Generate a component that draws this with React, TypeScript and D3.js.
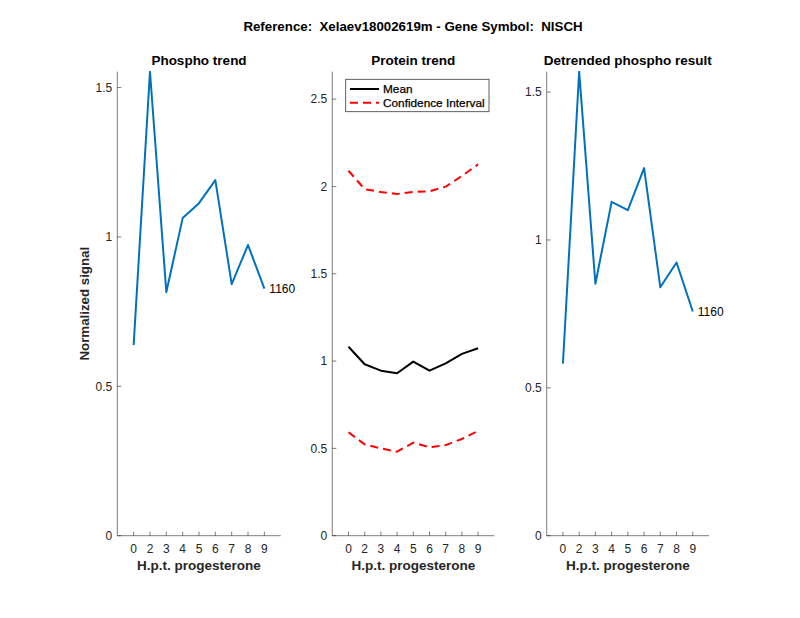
import React from "react";
import * as d3 from "d3";

const xPositions = [1, 2, 3, 4, 5, 6, 7, 8, 9];
const xTickLabels = ["0", "2", "3", "4", "5", "6", "7", "8", "9"];

const phosphoValues = [0.638, 1.553, 0.815, 1.063, 1.113, 1.19, 0.842, 0.973, 0.827];
const proteinMean = [1.082, 0.982, 0.945, 0.93, 0.997, 0.945, 0.987, 1.041, 1.073];
const proteinUpper = [2.09, 1.984, 1.968, 1.957, 1.968, 1.972, 1.999, 2.06, 2.127];
const proteinLower = [0.592, 0.523, 0.5, 0.481, 0.533, 0.506, 0.519, 0.554, 0.6];
const detrendedValues = [0.582, 1.569, 0.852, 1.129, 1.101, 1.243, 0.84, 0.924, 0.758];

const phosphoYTicks = [0, 0.5, 1, 1.5];
const proteinYTicks = [0, 0.5, 1, 1.5, 2, 2.5];
const detrendedYTicks = [0, 0.5, 1, 1.5];

const peptideLabel = "1160";

const W = 800;
const H = 618;
const TOP = 71.7;
const BOTTOM = 535.7;
const FONT = "'Liberation Sans', Arial, Helvetica, sans-serif";
const AXIS = "#262626";
const BLUE = "#0072BD";

type Series = { values: number[]; color: string; dash?: string; width: number };

function Panel(props: {
  left: number;
  right: number;
  yMax: number;
  yTicks: number[];
  title: string;
  series: Series[];
  endLabel?: string;
  yLabel?: string;
  legend?: boolean;
}) {
  const { left, right, yMax, yTicks, title, series, endLabel, yLabel, legend } = props;
  const x = d3.scaleLinear().domain([0, 10]).range([left, right]);
  const y = d3.scaleLinear().domain([0, yMax]).range([BOTTOM, TOP]);
  const line = d3
    .line<number>()
    .x((_, i) => x(xPositions[i]))
    .y((d) => y(d));
  const cx = (left + right) / 2;
  const lastIdx = xPositions.length - 1;
  return (
    <g>
      <defs>
        <clipPath id={`clip-${left}`}>
          <rect x={left} y={TOP - 1} width={right - left} height={BOTTOM - TOP + 1} />
        </clipPath>
      </defs>
      <text x={cx} y={65} textAnchor="middle" fontFamily={FONT} fontWeight="bold" fontSize={13.5} fill="#000">
        {title}
      </text>
      <line x1={left} x2={right} y1={BOTTOM} y2={BOTTOM} stroke={AXIS} strokeWidth={0.8} opacity={0.75} />
      <line x1={left} x2={left} y1={TOP} y2={BOTTOM} stroke={AXIS} strokeWidth={0.8} opacity={0.75} />
      {xPositions.map((p, i) => (
        <g key={`xt${i}`}>
          <line x1={x(p)} x2={x(p)} y1={BOTTOM} y2={BOTTOM - 4} stroke={AXIS} strokeWidth={0.8} opacity={0.75} />
          <text x={x(p)} y={552.5} textAnchor="middle" fontFamily={FONT} fontSize={12} fill={AXIS}>
            {xTickLabels[i]}
          </text>
        </g>
      ))}
      {yTicks.map((t, i) => (
        <g key={`yt${i}`}>
          <line x1={left} x2={left + 4} y1={y(t)} y2={y(t)} stroke={AXIS} strokeWidth={0.8} opacity={0.75} />
          <text x={left - 5} y={y(t) + 4.3} textAnchor="end" fontFamily={FONT} fontSize={12} fill={AXIS}>
            {String(t)}
          </text>
        </g>
      ))}
      <text x={cx} y={570} textAnchor="middle" fontFamily={FONT} fontWeight="bold" fontSize={13.5} fill={AXIS}>
        H.p.t. progesterone
      </text>
      {yLabel && (
        <text
          transform={`translate(89,${(TOP + BOTTOM) / 2}) rotate(-90)`}
          textAnchor="middle"
          fontFamily={FONT}
          fontWeight="bold"
          fontSize={13.3}
          fill={AXIS}
        >
          {yLabel}
        </text>
      )}
      <g clipPath={`url(#clip-${left})`}>
        {series.map((s, i) => (
          <path
            key={`s${i}`}
            d={line(s.values) || ""}
            fill="none"
            stroke={s.color}
            strokeWidth={s.width}
            strokeDasharray={s.dash}
            strokeLinejoin="round"
          />
        ))}
      </g>
      {endLabel && (
        <text
          x={x(xPositions[lastIdx]) + 5}
          y={y(series[0].values[lastIdx]) + 4.5}
          fontFamily={FONT}
          fontSize={12}
          fill="#000"
        >
          {endLabel}
        </text>
      )}
      {legend && (
        <g>
          <rect x={345.7} y={79.3} width={143.3} height={32.4} fill="#fff" stroke={AXIS} strokeWidth={0.8} opacity={0.9} />
          <line x1={350} x2={379} y1={89} y2={89} stroke="#000" strokeWidth={2} />
          <text x={383} y={93.2} fontFamily={FONT} fontSize={11.8} fill="#000" stroke="#000" strokeWidth={0.25}>
            Mean
          </text>
          <line x1={350} x2={379} y1={102.7} y2={102.7} stroke="#ff0000" strokeWidth={2} strokeDasharray="8,5" />
          <text x={383} y={107} fontFamily={FONT} fontSize={11.8} fill="#000" stroke="#000" strokeWidth={0.25}>
            Confidence Interval
          </text>
        </g>
      )}
    </g>
  );
}

export default function App() {
  return (
    <svg
      width={W}
      height={H}
      viewBox={`0 0 ${W} ${H}`}
      style={{ position: "absolute", left: 0, top: 0, background: "#fff" }}
    >
      <rect x={0} y={0} width={W} height={H} fill="#fff" />
      <text
        x={413}
        y={31}
        textAnchor="middle"
        fontFamily={FONT}
        fontWeight="bold"
        fontSize={13.3}
        fill="#000"
        style={{ whiteSpace: "pre" }}
      >
        {"Reference:  Xelaev18002619m - Gene Symbol:  NISCH"}
      </text>
      <Panel
        left={117.3}
        right={280.7}
        yMax={1.553}
        yTicks={phosphoYTicks}
        title="Phospho trend"
        series={[{ values: phosphoValues, color: BLUE, width: 2 }]}
        endLabel={peptideLabel}
        yLabel="Normalized signal"
      />
      <Panel
        left={332.3}
        right={494.3}
        yMax={2.657}
        yTicks={proteinYTicks}
        title="Protein trend"
        series={[
          { values: proteinMean, color: "#000", width: 2 },
          { values: proteinUpper, color: "#ff0000", width: 2, dash: "8,5" },
          { values: proteinLower, color: "#ff0000", width: 2, dash: "8,5" },
        ]}
        legend
      />
      <Panel
        left={546.7}
        right={709}
        yMax={1.569}
        yTicks={detrendedYTicks}
        title="Detrended phospho result"
        series={[{ values: detrendedValues, color: BLUE, width: 2 }]}
        endLabel={peptideLabel}
      />
    </svg>
  );
}
